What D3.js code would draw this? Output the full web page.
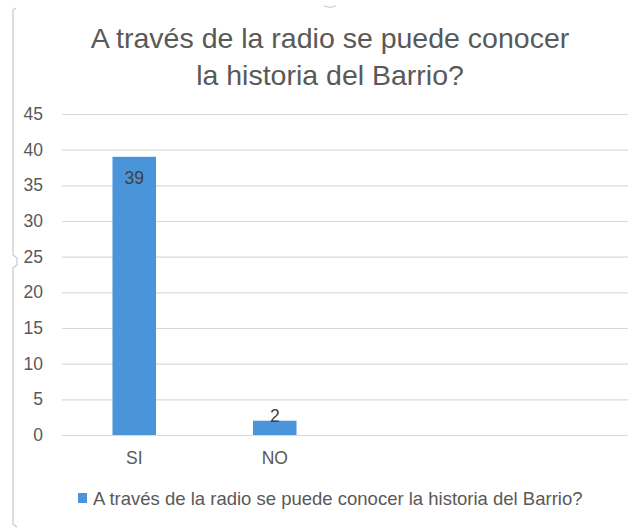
<!DOCTYPE html>
<html>
<head>
<meta charset="utf-8">
<script src="https://cdn.jsdelivr.net/npm/d3@7"></script>
<style>
  body { margin: 0; background: #fff; }
  text { font-family: "Liberation Sans", Arial, sans-serif; }
</style>
</head>
<body>
<svg id="chart"></svg>
<script>
var categories = ["SI", "NO", "", ""];
var values = [39, 2, null, null];
var yTicks = [0, 5, 10, 15, 20, 25, 30, 35, 40, 45];
var titleLines = ["A través de la radio se puede conocer", "la historia del Barrio?"];
var seriesName = "A través de la radio se puede conocer la historia del Barrio?";

var svgWidth = 639;
var svgHeight = 529;

var margin = { top: 114, right: 11, bottom: 94, left: 62 };
var chartWidth = svgWidth - margin.left - margin.right;
var chartHeight = svgHeight - margin.top - margin.bottom;

var svg = d3.select("#chart")
  .attr("width", svgWidth)
  .attr("height", svgHeight);

// frame bits on the left, like the original screenshot
svg.append("path")
  .attr("d", "M16,8 L13,10 L13,255 L17,258 L17,265 L13,268 L13,524 L17,527")
  .attr("fill", "none")
  .attr("stroke", "#c8c8c8")
  .attr("stroke-width", 1.2);
svg.append("path")
  .attr("d", "M324,6 Q330,9 336,6")
  .attr("fill", "none")
  .attr("stroke", "#c8c8c8");

var g = svg.append("g")
  .attr("transform", "translate(" + margin.left + "," + margin.top + ")");

var idx = d3.range(categories.length);

var x = d3.scaleBand()
  .domain(idx)
  .range([2, 564])
  .paddingInner(0.69)
  .paddingOuter(0.345);

var y = d3.scaleLinear()
  .domain([0, 45])
  .range([chartHeight, 0]);

// gridlines
g.append("g")
  .call(d3.axisLeft(y).tickValues(yTicks).tickSize(-chartWidth).tickFormat(""))
  .call(function(a) {
    a.select(".domain").remove();
    a.selectAll("line").attr("stroke", "#d9d9d9").attr("stroke-width", 1.2);
  });

// y labels
g.append("g")
  .call(d3.axisLeft(y).tickValues(yTicks).tickSize(0).tickPadding(19))
  .call(function(a) {
    a.select(".domain").remove();
    a.selectAll("text")
      .attr("fill", "#595959")
      .style("font-size", "17.5px");
  });

// x labels
g.append("g")
  .attr("transform", "translate(0," + chartHeight + ")")
  .call(d3.axisBottom(x).tickSize(0).tickPadding(17).tickFormat(function(i) { return categories[i]; }))
  .call(function(a) {
    a.select(".domain").remove();
    a.selectAll("text")
      .attr("fill", "#595959")
      .style("font-size", "17.5px");
  });

var data = idx.filter(function(i) { return values[i] != null; });

g.selectAll(".bar")
  .data(data)
  .enter()
  .append("rect")
    .attr("class", "bar")
    .attr("x", function(i) { return x(i); })
    .attr("y", function(i) { return y(values[i]); })
    .attr("width", x.bandwidth())
    .attr("height", function(i) { return chartHeight - y(values[i]); })
    .attr("fill", "#4a94d9");

g.selectAll(".lbl")
  .data(data)
  .enter()
  .append("text")
    .attr("class", "lbl")
    .attr("x", function(i) { return x(i) + x.bandwidth() / 2; })
    .attr("y", function(i) {
      return values[i] > 10 ? y(values[i]) + 27 : y(values[i]) + 1;
    })
    .attr("text-anchor", "middle")
    .attr("fill", "#404040")
    .style("font-size", "17.5px")
    .text(function(i) { return values[i]; });

// title
svg.append("g")
  .selectAll("text")
  .data(titleLines)
  .enter()
  .append("text")
    .attr("x", 330)
    .attr("y", function(d, i) { return 48 + i * 37; })
    .attr("text-anchor", "middle")
    .attr("fill", "#595959")
    .style("font-size", "28.5px")
    .text(function(d) { return d; });

// legend
var legend = svg.append("g").attr("transform", "translate(78,493)");
legend.append("rect")
  .attr("width", 9)
  .attr("height", 10)
  .attr("fill", "#4a94d9");
legend.append("text")
  .attr("x", 15)
  .attr("y", 11.5)
  .attr("fill", "#595959")
  .style("font-size", "18.5px")
  .text(seriesName);
</script>
</body>
</html>
